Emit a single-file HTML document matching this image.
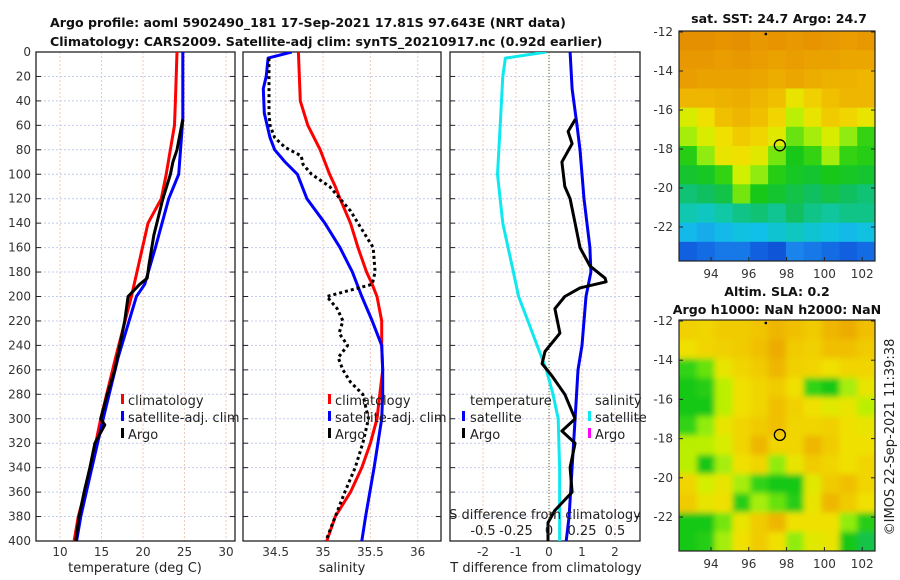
<!DOCTYPE html>
<html><head><meta charset="utf-8">
<style>
body{margin:0;background:#fff;}
svg{display:block;font-family:"DejaVu Sans","Liberation Sans",sans-serif;}
.tk{font-size:12px;fill:#333;}
.tt{font-size:12.6px;font-weight:bold;fill:#111;}
.lg{font-size:13px;fill:#222;}
</style></head>
<body>
<svg id="chart" width="900" height="580" viewBox="0 0 900 580">
<defs>
<filter id="blur" x="0" y="0" width="1" height="1"><feGaussianBlur stdDeviation="3"/></filter>
<clipPath id="c1"><rect x="36" y="52" width="199" height="489"/></clipPath>
<clipPath id="c2"><rect x="243" y="52" width="198" height="489"/></clipPath>
<clipPath id="c3"><rect x="450" y="52" width="190" height="489"/></clipPath>
<clipPath id="cm1"><rect x="679" y="31" width="196" height="230"/></clipPath>
<clipPath id="cm2"><rect x="679" y="320" width="196" height="231"/></clipPath>
</defs>
<text class="tt" x="50" y="27">Argo profile: aoml 5902490_181 17-Sep-2021 17.81S 97.643E (NRT data)</text>
<text class="tt" x="50" y="46">Climatology: CARS2009. Satellite-adj clim: synTS_20210917.nc (0.92d earlier)</text>
<g id="g"></g>
</svg>
<script>
// ---------- data ----------
const depthTicks=[0,20,40,60,80,100,120,140,160,180,200,220,240,260,280,300,320,340,360,380,400];
const tempTicks=[10,15,20,25,30];
const salTicks=[34.5,35,35.5,36];
const tdiffTicks=[-2,-1,0,1,2];
const sdiffTicks=[-0.5,-0.25,0,0.25,0.5];
const sdiffLabels=["-0.5","-0.25","0","0.25","0.5"];

const tClimDepth=[0,40,60,100,120,140,200,250,300,350,380,400];
const tClimVal=[24.1,23.9,23.8,22.8,22.2,20.6,18.6,16.7,14.9,13.4,12.2,11.7];
const tSatDepth=[0,55,100,120,160,190,200,250,300,350,380,400];
const tSatVal=[24.8,24.8,24.3,23.1,21.5,20.2,19.2,17.0,15.2,13.5,12.5,12.0];
const tArgoDepth=[55,80,90,100,120,150,175,185,190,200,220,240,260,280,300,305,320,340,360,380,400];
const tArgoVal=[24.8,24.1,23.6,23.3,22.4,21.3,20.7,20.5,19.6,18.2,17.8,17.2,16.6,15.7,14.9,15.4,14.2,13.6,12.9,12.3,11.9];

const sClimDepth=[0,40,60,80,100,110,120,140,160,180,190,200,220,240,260,280,300,320,340,360,380,400];
const sClimVal=[34.74,34.76,34.84,34.97,35.07,35.13,35.18,35.29,35.37,35.46,35.52,35.57,35.62,35.62,35.63,35.60,35.57,35.50,35.41,35.29,35.13,35.04];
const sSatDepth=[0,5,20,30,50,70,80,90,100,120,140,160,180,200,220,240,260,280,300,340,380,400];
const sSatVal=[34.67,34.42,34.40,34.37,34.38,34.44,34.49,34.60,34.73,34.83,35.02,35.18,35.31,35.41,35.52,35.62,35.63,35.63,35.62,35.54,35.45,35.41];
const sArgoDepth=[5,50,60,70,78,85,92,100,110,120,130,140,160,180,190,200,210,220,230,240,250,260,270,280,300,320,340,360,380,400];
const sArgoVal=[34.43,34.43,34.44,34.49,34.60,34.77,34.79,34.88,35.07,35.18,35.29,35.37,35.53,35.55,35.52,35.04,35.15,35.21,35.17,35.26,35.16,35.21,35.29,35.42,35.48,35.42,35.34,35.23,35.13,35.03];

const dSatSDepth=[0,5,20,60,100,140,180,200,220,240,260,280,300,340,400];
const dSatSVal=[-0.02,-0.33,-0.35,-0.37,-0.39,-0.35,-0.27,-0.23,-0.16,-0.09,-0.02,0.03,0.07,0.08,0.08];
const dSatTDepth=[0,30,60,80,120,160,180,200,240,260,300,340,380,400];
const dSatTVal=[0.64,0.70,0.85,0.94,1.06,1.24,1.27,1.12,1.00,0.88,0.79,0.70,0.61,0.52];
const dArgoTDepth=[55,65,75,90,110,120,140,160,175,185,188,193,200,210,230,245,255,265,280,300,310,320,340,360,375,385,400];
const dArgoTVal=[0.80,0.58,0.70,0.39,0.48,0.64,0.79,0.94,1.24,1.70,1.73,0.94,0.48,0.18,0.33,-0.12,-0.21,0.09,0.48,0.79,0.39,0.79,0.64,0.70,0.18,-0.03,-0.03];

const mapLonTicks=[94,96,98,100,102];
const mapLatTicks=[-12,-14,-16,-18,-20,-22];
const sstGrid=[
[.88,.88,.87,.88,.86,.87,.86,.87,.86,.85,.86],
[.86,.86,.85,.86,.85,.84,.85,.84,.84,.83,.83],
[.85,.84,.84,.84,.83,.82,.83,.82,.81,.81,.80],
[.80,.80,.81,.82,.80,.78,.70,.75,.78,.80,.80],
[.66,.72,.78,.80,.78,.74,.62,.70,.76,.74,.70],
[.60,.66,.72,.76,.74,.68,.55,.60,.66,.58,.50],
[.48,.58,.70,.72,.68,.56,.46,.50,.60,.50,.48],
[.44,.45,.50,.64,.58,.48,.45,.44,.46,.45,.44],
[.38,.40,.42,.56,.46,.44,.42,.40,.42,.40,.38],
[.32,.30,.33,.36,.38,.35,.40,.36,.34,.36,.36],
[.24,.22,.24,.26,.25,.28,.30,.28,.26,.24,.26],
[.10,.12,.14,.14,.10,.08,.16,.14,.12,.10,.12]];
const slaGrid=[
[.75,.74,.76,.76,.77,.80,.78,.76,.80,.82,.78],
[.72,.74,.75,.76,.78,.82,.76,.75,.78,.78,.76],
[.50,.55,.70,.74,.76,.80,.75,.74,.72,.74,.74],
[.46,.48,.62,.72,.74,.76,.72,.50,.46,.60,.70],
[.46,.46,.62,.72,.74,.78,.75,.72,.68,.70,.62],
[.50,.58,.70,.74,.76,.78,.74,.74,.75,.72,.70],
[.62,.62,.66,.74,.80,.74,.74,.80,.76,.72,.72],
[.62,.46,.60,.72,.74,.58,.70,.76,.74,.72,.74],
[.74,.65,.70,.60,.50,.46,.46,.68,.76,.78,.74],
[.76,.70,.72,.48,.60,.55,.48,.70,.80,.76,.72],
[.46,.46,.56,.70,.76,.80,.72,.72,.72,.58,.48],
[.46,.48,.60,.72,.76,.72,.58,.68,.70,.46,.42]];
const argoLon=[97.643];
const argoLat=[-17.81];

// ---------- helpers ----------
const NS="http://www.w3.org/2000/svg";
const G=document.getElementById('g');
function mk(tag,at,parent){const e=document.createElementNS(NS,tag);for(const k in at)e.setAttribute(k,at[k]);(parent||G).appendChild(e);return e;}
const Y=d=>52+d*489/400;
const xT=t=>60+(t-10)*8.3;
const xS=s=>323+(s-35)*94.7;
const xDT=v=>549+v*33;
const xDS=v=>549+v*132;
const mx=lon=>711+(lon-94)*18.9;
const my1=lat=>32+(-12-lat)*19.5;
const my2=lat=>321+(-12-lat)*19.6;

function panel(x0,w,xTicks,xf,name){
  const p=mk('g',{});
  
  
  xTicks.forEach(t=>{const l=mk('line',{x1:xf(t),x2:xf(t),y1:52,y2:541,stroke:'#f0c8b8','stroke-width':1,'stroke-dasharray':'2,2'},p);
    });
  depthTicks.forEach(d=>{const l=mk('line',{x1:x0,x2:x0+w,y1:Y(d),y2:Y(d),stroke:'#c4ccf0','stroke-width':1,'stroke-dasharray':'2,2'},p);
    
    mk('line',{x1:x0,x2:x0+5,y1:Y(d),y2:Y(d),stroke:'#222'},p);
    mk('line',{x1:x0+w-5,x2:x0+w,y1:Y(d),y2:Y(d),stroke:'#222'},p);});
  const r=mk('rect',{x:x0,y:52,width:w,height:489,fill:'none',stroke:'#222','stroke-width':1.3},p);
  
  return p;
}
function line(ds,vs,xf,color,clip,name,dash,wd){
  const pts=ds.map((d,i)=>xf(vs[i]).toFixed(1)+','+Y(d).toFixed(1)).join(' ');
  const a={points:pts,fill:'none',stroke:color,'stroke-width':wd||3,'clip-path':'url(#'+clip+')','stroke-linejoin':'round'};
  if(dash){a['stroke-dasharray']=dash;}
  const e=mk('polyline',a);
  
  
}
function txt(x,y,s,cls,anchor,name){const e=mk('text',{x:x,y:y,class:cls,'text-anchor':anchor||'start'});e.textContent=s;
  return e;}
function legendMark(x,y,color,name){const e=mk('rect',{x:x,y:y-11,width:3,height:10,fill:color});
  }

// ---------- panel 1: temperature ----------
panel(36,199,tempTicks,xT,'temperature-panel');
depthTicks.forEach(d=>txt(31,Y(d)+4,String(d),'tk','end','depth-tick-label'));
tempTicks.forEach(t=>txt(xT(t),556,String(t),'tk','middle','temperature-tick-label'));
txt(135,572,'temperature (deg C)','lg','middle','x-axis-title-temperature');
line(tClimDepth,tClimVal,xT,'#f00','c1','temp-climatology-line');
line(tSatDepth,tSatVal,xT,'#00f','c1','temp-satellite-line');
line(tArgoDepth,tArgoVal,xT,'#000','c1','temp-argo-line');
legendMark(121,405,'#f00','legend-marker-climatology');txt(128,405,'climatology','lg','start','legend-climatology');
legendMark(121,422,'#00f','legend-marker-satellite');txt(128,422,'satellite-adj. clim','lg','start','legend-satellite');
legendMark(121,439,'#000','legend-marker-argo');txt(128,439,'Argo','lg','start','legend-argo');

// ---------- panel 2: salinity ----------
panel(243,198,salTicks,xS,'salinity-panel');
salTicks.forEach(t=>txt(xS(t),556,String(t),'tk','middle','salinity-tick-label'));
txt(342,572,'salinity','lg','middle','x-axis-title-salinity');
line(sClimDepth,sClimVal,xS,'#f00','c2','sal-climatology-line');
line(sSatDepth,sSatVal,xS,'#00f','c2','sal-satellite-line');
line(sArgoDepth,sArgoVal,xS,'#000','c2','sal-argo-line','3,3');
legendMark(328,405,'#f00','legend2-marker-climatology');txt(335,405,'climatology','lg','start','legend2-climatology');
legendMark(328,422,'#00f','legend2-marker-satellite');txt(335,422,'satellite-adj. clim','lg','start','legend2-satellite');
legendMark(328,439,'#000','legend2-marker-argo');txt(335,439,'Argo','lg','start','legend2-argo');

// ---------- panel 3: differences ----------
panel(450,190,tdiffTicks,xDT,'difference-panel');
const zl=mk('line',{x1:xDT(0),x2:xDT(0),y1:52,y2:541,stroke:'#3a6a2a','stroke-width':1,'stroke-dasharray':'1,2'});

tdiffTicks.forEach(t=>txt(xDT(t),556,String(t),'tk','middle','tdiff-tick-label'));
txt(546,572,'T difference from climatology','lg','middle','x-axis-title-tdiff');
line(dSatSDepth,dSatSVal,xDS,'#10e8f0','c3','sdiff-satellite-line');
line(dSatTDepth,dSatTVal,xDT,'#0000f0','c3','tdiff-satellite-line');
line(dArgoTDepth,dArgoTVal,xDT,'#000','c3','tdiff-argo-line');
txt(470,405,'temperature','lg','start','legend3-temperature-header');
legendMark(462,422,'#00f','legend3-marker-tsat');txt(470,422,'satellite','lg','start','legend3-tsat');
legendMark(462,439,'#000','legend3-marker-targo');txt(470,439,'Argo','lg','start','legend3-targo');
txt(595,405,'salinity','lg','start','legend3-salinity-header');
legendMark(588,422,'#10e8f0','legend3-marker-ssat');txt(595,422,'satellite','lg','start','legend3-ssat');
legendMark(588,439,'#f0f','legend3-marker-sargo');txt(595,439,'Argo','lg','start','legend3-sargo');
txt(545,519,'S difference from climatology','lg','middle','sdiff-axis-title');
sdiffTicks.forEach((t,i)=>txt(xDS(t),535,sdiffLabels[i],'lg','middle','sdiff-tick-label'));

// ---------- maps ----------
const stops=[[0,[10,42,184]],[.1,[16,96,224]],[.18,[30,144,240]],[.25,[16,192,232]],[.32,[16,200,176]],[.4,[16,192,96]],[.46,[24,200,24]],[.52,[64,216,16]],[.58,[144,236,16]],[.64,[208,240,0]],[.72,[240,224,0]],[.78,[240,192,0]],[.86,[232,152,0]],[.92,[224,128,0]]];
function cmap(v){for(let i=1;i<stops.length;i++){if(v<=stops[i][0]){const a=stops[i-1],b=stops[i],f=(v-a[0])/(b[0]-a[0]);
  return 'rgb('+a[1].map((c,k)=>Math.round(c+(b[1][k]-c)*f)).join(',')+')';}}return 'rgb(224,128,0)';}
function map(y0,h,grid,ymap,clip,name,blur){
  const g=mk('g',{'clip-path':'url(#'+clip+')'});
  
  const inner=mk('g',blur?{filter:'url(#blur)'}:{},g);
  const rows=grid.length,cols=grid[0].length,cw=196/cols,ch=h/rows;
  grid.forEach((row,r)=>row.forEach((v,c)=>{const e=mk('rect',{x:(679+c*cw-(blur&&c==0?10:0)).toFixed(1),y:(y0+r*ch-(blur&&r==0?10:0)).toFixed(1),width:(cw+0.6+(blur&&(c==0||c==cols-1)?10:0)).toFixed(1),height:(ch+0.6+(blur&&(r==0||r==rows-1)?10:0)).toFixed(1),fill:cmap(v)},inner);
    }));
  const fr=mk('rect',{x:679,y:y0,width:196,height:h,fill:'none',stroke:'#222','stroke-width':1.2});
  
  mapLatTicks.forEach(l=>{mk('line',{x1:679,x2:683,y1:ymap(l),y2:ymap(l),stroke:'#222'});mk('line',{x1:871,x2:875,y1:ymap(l),y2:ymap(l),stroke:'#222'});
    txt(673,ymap(l)+4,String(l),'tk','end','lat-tick-label');});
  mapLonTicks.forEach(l=>{mk('line',{x1:mx(l),x2:mx(l),y1:y0+h,y2:y0+h-4,stroke:'#222'});
    txt(mx(l),y0+h+17,String(l),'tk','middle','lon-tick-label');});
  const c=mk('circle',{cx:mx(argoLon[0]),cy:ymap(argoLat[0]),r:5.5,fill:'none',stroke:'#000','stroke-width':1.3});
  
  const dt=mk('circle',{cx:mx(96.9),cy:ymap(-12.1),r:1.3,fill:'#000'});
  
}
txt(779,23,'sat. SST: 24.7 Argo: 24.7','tt','middle','sst-map-title');
map(31,230,sstGrid,my1,'cm1','sst-map',false);
txt(777,296,'Altim. SLA: 0.2','tt','middle','sla-map-title-1');
txt(777,314,'Argo h1000: NaN h2000: NaN','tt','middle','sla-map-title-2');
map(320,231,slaGrid,my2,'cm2','sla-map',true);
const cp=txt(0,0,'©IMOS 22-Sep-2021 11:39:38','lg','middle','copyright-timestamp');
cp.setAttribute('transform','translate(894,437) rotate(-90)');
</script>
</body></html>
